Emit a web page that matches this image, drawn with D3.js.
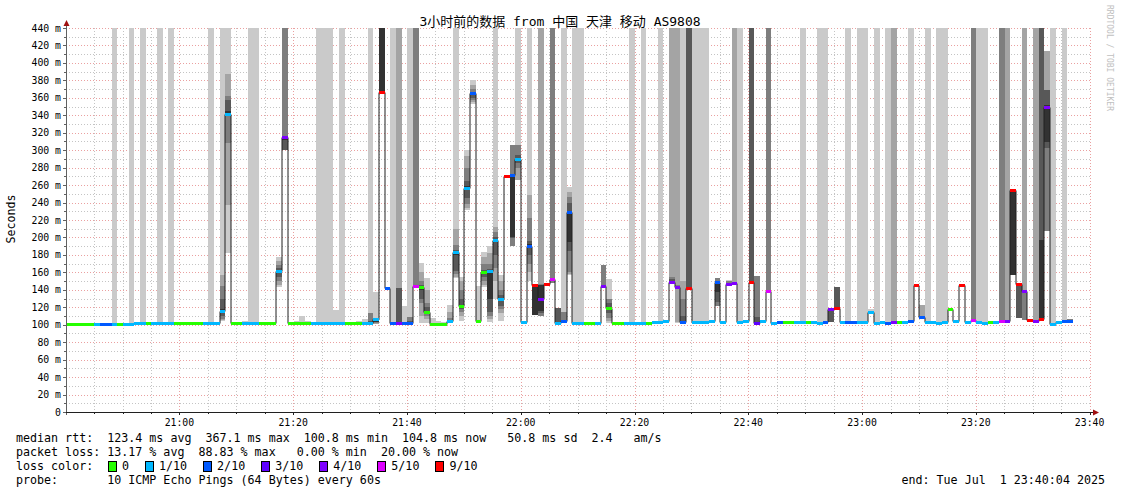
<!DOCTYPE html>
<html><head><meta charset="utf-8">
<script src="https://cdn.jsdelivr.net/npm/d3@7"></script>
<style>body{margin:0;background:#fff;}svg{display:block}</style>
</head><body><svg id="c" width="1121" height="494"></svg>
<script>
// ---------------- data ----------------
const titleText = "3小时前的数据 from 中国 天津 移动 AS9808";
const startTime = new Date(2025,6,1,20,40,4);
const endTime   = new Date(2025,6,1,23,40,4);
const xTickLabels = ["21:00","21:20","21:40","22:00","22:20","22:40","23:00","23:20","23:40"];
const yTickValues = [0,20,40,60,80,100,120,140,160,180,200,220,240,260,280,300,320,340,360,380,400,420,440];
const lossLevels = [0,1,2,3,4,5,9];
const lossLabels = ["0","1/10","2/10","3/10","4/10","5/10","9/10"];
const lossColors = ["#26ff00","#00b8ff","#0059ff","#5e00ff","#7e00ff","#dd00ff","#ff0000"];
const smokeColors = ["#cacaca","#a4a4a4","#7e7e7e","#585858","#323232"];
const legendLines = [
 "median rtt:  123.4 ms avg  367.1 ms max  100.8 ms min  104.8 ms now   50.8 ms sd  2.4   am/s",
 "packet loss: 13.17 % avg  88.83 % max   0.00 % min  20.00 % now",
 "loss color:",
 "probe:       10 ICMP Echo Pings (64 Bytes) every 60s"
];
const endText = "end: Tue Jul  1 23:40:04 2025";

// median rtt per minute (ms)
const medianRtt = [
101,101,101,101,101,101,101,101,101,100.8, 101,101,102.5,102.5,102,102,102,102,102,102,
102,102,102,102,102,102,102,116,342,102, 102,102,102,102,102,102,102,161,315,102,
102,102,102,102,102,102,102,102,102,102, 102,102,102,102,107,367,142,102,102,102,
102,144.7,143,115,101,101,101,104,183,122, 257,365,104,160,161.6,196.7,130,270.4,272,290,
103,190.6,145.5,129,146.7,152,102,104,228.6,102, 102,102,102,102,144.4,118.8,102,102,102,102,
102,102,102,103,103,104,149.3,143.2,103.5,141.6, 103,103,103,104,149.3,103,146.3,148,103,104,
149.3,102,104,138.6,101.5,103,103,103,103,103, 103,103,102,103,117.6,118.8,103,103,103,103,
103,115,102,103,102,103,103,103,104,145.5, 108.8,103,103,102,103,117.6,104,145.5,103,105,
103,102,103,103,104,104,254.8,146.3,138.6,105.8, 104,106.6,349,101,103,104,104
];
// lost pings out of 10 per minute
const lossCount = [
0,0,0,0,0,1,2,2,1,0, 1,1,1,1,0,1,1,1,1,0, 0,0,0,0,1,1,1,1,1,0,
0,1,1,1,0,0,0,1,4,0, 0,0,0,1,1,1,1,1,1,0, 0,0,1,1,1,9,2,2,4,2,
2,5,0,0,0,0,0,1,1,0, 1,2,0,0,1,1,1,9,2,1, 1,2,9,4,9,5,1,2,2,1,
1,0,0,1,4,0,0,0,1,1, 1,1,0,1,1,1,4,4,2,9, 1,1,1,1,2,1,4,4,1,1,
9,3,1,5,1,2,0,0,1,1, 0,1,1,2,4,9,1,2,2,1, 1,1,1,1,2,4,0,1,2,9,
2,1,1,1,1,0,1,9,1,5, 1,1,0,1,5,4,9,9,4,9, 4,9,4,1,1,2,2
];
// 10 sorted ping times per minute (ms); 500 = off the top of the chart
const pingValues = [
[101,101,101,101,101,101,101,101,101,101],[101,101,101,101,101,101,101,101,101,101],
[101,101,101,101,101,101,101,101,101,101],[101,101,101,101,101,101,101,101,101,101],
[101,101,101,101,101,101,101,101,101,101],[101,101,101,101,101,101,101,101,101,101],
[101,101,101,101,101,101,101,101,101,101],[101,101,101,101,101,101,101,101,101,101],
[101,101,101,101,101,101,101,101,101,500],[101,101,101,101,101,101,101,101,101,101],
[101,101,101,101,101,101,101,101,101,101],[101,101,101,101,101,101,101,101,101,500],
[102,102,102,102,102,102,102,102,102,102],[102,102,102,102,102,102,102,102,102,500],
[102,102,102,102,102,102,102,102,102,102],[102,102,102,102,102,102,102,102,102,102],
[102,102,102,102,102,102,102,102,102,500],[102,102,102,102,102,102,102,102,102,102],
[102,102,102,102,102,102,102,102,102,500],[102,102,102,102,102,102,102,102,102,102],
[102,102,102,102,102,102,102,102,102,102],[102,102,102,102,102,102,102,102,102,102],
[102,102,102,102,102,102,102,102,102,102],[102,102,102,102,102,102,102,102,102,102],
[102,102,102,102,102,102,102,102,102,102],[102,102,102,102,102,102,102,102,102,500],
[102,102,102,102,102,102,102,102,102,102],[104,105,106,110,113,118,130,144,157,500],
[182,237,308,340,341,345,358,362,387,500],[102,102,102,102,102,102,102,102,102,102],
[102,102,102,102,102,102,102,102,102,102],[102,102,102,102,102,102,102,102,102,104],
[102,102,102,102,102,102,102,102,102,500],[102,102,102,102,102,102,102,102,102,500],
[102,102,102,102,102,102,102,102,102,102],[102,102,102,102,102,102,102,102,102,102],
[102,102,102,102,102,102,102,102,102,102],[143,145,150,155,160,162,165,168,173,178],
[300,300,300,300,312,316,316,500,500,500],[102,102,102,102,102,102,102,102,102,102],
[102,102,102,102,102,102,102,102,102,104],[102,102,102,102,102,102,102,102,102,110],
[102,102,102,102,102,102,102,102,102,104],[102,102,102,102,102,102,102,102,102,103],
[102,102,102,102,102,102,102,102,102,500],[102,102,102,102,102,102,102,102,102,500],
[102,102,102,102,102,102,102,102,102,500],[102,102,102,102,102,102,102,102,102,117],
[102,102,102,102,102,102,102,102,102,500],[102,102,102,102,102,102,102,102,102,102],
[102,102,102,102,102,102,102,102,102,102],[102,102,102,102,102,102,102,102,102,104],
[102,102,102,102,102,102,102,102,102,106],[101,101,102,102,102,103,104,114,114,500],
[101,101,102,103,103,108,108,108,108,137],[367,367,367,367,367,500,500,500,500,500],
[142,142,142,142,142,142,142,142,142,142],[102,102,102,102,102,102,102,102,102,500],
[101,101,101,101,101,102,142,142,500,500],[102,102,102,102,102,102,102,102,102,121],
[102,102,102,102,102,103,104,109,109,500],[143,143,143,144,144,145,146,500,500,500],
[102,110,125,130,140,143,145,150,160,171],[102,106,110,112,114,116,120,125,140,153],
[101,101,101,101,101,101,101,101,101,108],[101,101,101,101,101,101,101,101,101,104],
[101,101,101,101,101,101,101,101,101,103],[103,103,103,103,104,104,105,108,115,123],
[153,155,158,161,180,185,186,191,210,500],[104,110,115,118,121,123,130,140,150,155],
[231,234,238,245,255,259,265,280,293,300],[353,355,358,360,364,366,367,370,375,380],
[104,104,104,104,104,104,104,104,104,144],[143,146,150,155,159,161,163,170,178,183],
[103,106,110,115,130,162,164,170,182,190],[130,150,165,180,195,198,200,206,212,500],
[104,114,118,122,129,131,134,140,150,157],[270,270,270,270,270,270,270,270,270,270],
[190,190,190,199,200,273,273,306,306,306],[266,266,280,285,289,291,295,306,306,500],
[103,103,103,103,103,103,103,103,103,103],[150,160,170,180,188,192,196,222,249,500],
[111,111,111,111,111,146,146,146,146,146],[110,110,110,113,116,146,146,147,500,500],
[147,147,147,147,147,147,147,147,147,147],[148,148,148,150,151,153,154,500,500,500],
[101,101,102,102,102,103,119,119,119,119],[103,103,103,103,104,104,105,115,115,500],
[157,158,160,185,195,230,240,246,252,258],[102,102,102,102,102,102,102,102,102,500],
[102,102,102,102,102,102,102,102,102,500],[102,102,102,102,102,102,102,102,102,102],
[102,102,102,102,102,102,102,102,102,102],[102,102,102,102,102,102,102,102,102,102],
[144,144,144,144,144,145,146,168,168,168],[102,104,108,113,118,120,125,130,130,152],
[102,102,102,102,102,102,102,102,102,102],[102,102,102,102,102,102,102,102,102,102],
[102,102,102,102,102,102,102,102,102,102],[102,102,102,102,102,102,102,102,102,500],
[102,102,102,102,102,102,102,102,102,102],[102,102,102,102,102,102,102,102,102,500],
[102,102,102,102,102,102,102,102,102,102],[103,103,103,103,103,103,103,103,103,103],
[103,103,103,103,103,103,103,103,103,500],[104,104,104,104,104,104,104,104,104,104],
[147,148,148,149,149,150,152,155,500,500],[102,103,142,143,143,143,144,145,500,500],
[103,103,103,103,103,104,110,130,150,500],[141,141,141,141,141,142,500,500,500,500],
[103,103,103,103,103,103,103,103,103,500],[103,103,103,103,103,103,103,103,103,500],
[103,103,103,103,103,103,103,103,103,500],[104,104,104,104,104,104,104,104,104,104],
[121,121,121,126,138,150,150,153,153,153],[103,103,103,103,103,103,103,103,103,103],
[146,146,146,146,146,147,148,150,150,151],[148,148,148,148,148,148,148,148,500,500],
[103,103,103,103,103,103,103,103,103,500],[104,104,104,104,104,104,104,104,104,104],
[149,149,149,149,149,150,500,500,500,500],[101,101,102,102,102,102,109,156,156,156],
[104,104,104,104,104,104,104,104,104,104],[138,138,138,138,138,139,140,500,500,500],
[101,101,101,101,101,101,101,101,101,101],[103,103,103,103,103,103,103,103,103,103],
[103,103,103,103,103,103,103,103,103,103],[103,103,103,103,103,103,103,103,103,103],
[103,103,103,103,103,103,103,103,103,103],[103,103,103,103,103,103,103,103,103,500],
[103,103,103,103,103,103,103,103,103,103],[103,103,103,103,103,103,103,103,103,103],
[102,102,102,102,102,102,102,102,102,500],[103,103,103,103,103,103,103,103,103,500],
[103,103,103,103,117,118,118,118,118,118],[118,118,118,118,118,119,143,143,143,143],
[103,103,103,103,103,103,103,103,103,103],[103,103,103,103,103,103,103,103,103,500],
[103,103,103,103,103,103,103,103,103,103],[103,103,103,103,103,103,103,103,103,500],
[103,103,103,103,103,103,103,103,103,500],[115,115,115,115,115,115,115,115,115,118],
[102,102,102,102,102,102,102,102,102,500],[103,103,103,103,103,103,103,103,103,103],
[102,102,102,102,102,102,102,102,102,500],[103,103,103,103,103,103,103,103,500,500],
[103,103,103,103,103,103,103,103,103,103],[103,103,103,103,103,103,103,103,103,103],
[104,104,104,104,104,104,104,104,104,500],[145,145,145,145,145,145,145,145,145,145],
[108,108,108,108,108,109,109,110,123,123],[103,103,103,103,103,103,103,103,103,500],
[103,103,103,103,103,103,103,103,103,103],[102,102,102,102,102,102,102,102,102,500],
[103,103,103,103,103,103,103,103,103,500],[117,117,117,117,117,117,117,117,117,117],
[104,104,104,104,104,104,104,104,104,104],[145,145,145,145,145,145,145,145,145,145],
[103,103,103,103,103,103,103,103,103,103],[104,104,104,104,105,107,107,500,500,500],
[103,103,103,103,103,103,103,103,103,500],[102,102,102,102,102,102,102,102,102,500],
[103,103,103,103,103,103,103,103,103,103],[103,103,103,103,103,103,103,103,103,103],
[103,103,103,103,104,105,105,500,500,500],[102,102,102,103,104,105,105,105,500,500],
[157,157,157,157,157,256,256,256,256,256],[108,108,108,108,146,147,147,147,147,147],
[105,105,105,138,138,139,139,139,500,500],[105,105,105,105,105,105,105,105,105,105],
[104,104,104,104,104,104,104,104,500,500],[106,106,106,106,107,197,500,500,500,500],
[207,207,207,302,309,352,369,369,414,414],[101,101,101,101,101,101,101,101,101,500],
[103,103,103,103,103,103,103,103,103,103],[104,104,104,104,104,104,104,104,104,500],
[104,104,104,104,104,104,104,106,106,106]
];

// ---------------- drawing ----------------
const W = 1121, H = 494;
const P = {left:66, right:1090, top:28, bottom:412};
const MONO = "'DejaVu Sans Mono','Noto Sans CJK SC',monospace";
const svg = d3.select("#c");
svg.append("rect").attr("width",W).attr("height",H).attr("fill","#fff");

const x = d3.scaleTime().domain([startTime,endTime]).range([P.left,P.right]);
const y = d3.scaleLinear().domain([0,440]).range([P.bottom,P.top]);
const stepTime = i => new Date(startTime.getTime() + i*60000);
const sx = i => Math.round(x(stepTime(i)));
const yc = v => y(Math.min(v, 440));

svg.append("defs").append("clipPath").attr("id","clip")
  .append("rect").attr("x",P.left).attr("y",P.top).attr("width",P.right-P.left).attr("height",P.bottom-P.top);

// grid (drawn beneath the smoke)
const gGrid = svg.append("g");
d3.range(10,441,10).forEach(v=>{
  const major = v%20===0;
  gGrid.append("line").attr("x1",P.left).attr("x2",P.right+2).attr("y1",Math.round(y(v))+0.5).attr("y2",Math.round(y(v))+0.5)
    .attr("stroke", major ? "#eaa0a0" : "#c4c4c4").attr("stroke-dasharray","1,2");
});
const minorTimes = d3.timeMinute.every(5).range(startTime, endTime);
minorTimes.forEach(t=>{
  const major = t.getMinutes()%20===0;
  const xx = Math.round(x(t))+0.5;
  gGrid.append("line").attr("x1",xx).attr("x2",xx).attr("y1",P.top).attr("y2",P.bottom)
    .attr("stroke", major ? "#eaa0a0" : "#c4c4c4").attr("stroke-dasharray","1,2");
});

// smoke
const gSmoke = svg.append("g").attr("clip-path","url(#clip)").attr("shape-rendering","crispEdges");
smokeColors.forEach((col,k)=>{
  const d = pingValues.map((p,i)=>({i, lo:p[k], hi:p[9-k]})).filter(e=>e.hi>e.lo);
  gSmoke.append("g").selectAll("rect").data(d).join("rect")
    .attr("x",e=>sx(e.i)).attr("width",e=>sx(e.i+1)-sx(e.i))
    .attr("y",e=>Math.round(yc(e.hi))).attr("height",e=>Math.round(yc(e.lo))-Math.round(yc(e.hi)))
    .attr("fill",col);
});

// median black step line
const lineData = medianRtt.map((m,i)=>[sx(i), Math.round(y(m))+0.5]);
lineData.push([sx(medianRtt.length), Math.round(y(medianRtt[medianRtt.length-1]))+0.5]);
svg.append("path").attr("d", d3.line().curve(d3.curveStepAfter)(lineData))
  .attr("fill","none").attr("stroke","#202020").attr("stroke-width",1);

// loss coloured median bars
function lossColor(l){ let c = lossColors[0]; lossLevels.forEach((lv,j)=>{ if(l>=lv) c = lossColors[j]; }); return c; }
svg.append("g").attr("shape-rendering","crispEdges").selectAll("rect").data(medianRtt).join("rect")
  .attr("x",(m,i)=>sx(i)).attr("width",(m,i)=>sx(i+1)-sx(i))
  .attr("y",m=>Math.round(y(m))-1).attr("height",2.5)
  .attr("fill",(m,i)=>lossColor(lossCount[i]));

// axes
const gAx = svg.append("g").attr("shape-rendering","crispEdges");
gAx.append("line").attr("x1",P.left+0.5).attr("x2",P.left+0.5).attr("y1",P.bottom+3).attr("y2",P.top-4).attr("stroke","#606060");
gAx.append("line").attr("x1",P.left-3).attr("x2",P.right+4).attr("y1",P.bottom+0.5).attr("y2",P.bottom+0.5).attr("stroke","#202020");
d3.range(0,441,10).forEach(v=>{
  const yy = Math.round(y(v))+0.5;
  gAx.append("line").attr("x1",P.left-(v%20===0?3:2)).attr("x2",P.left).attr("y1",yy).attr("y2",yy).attr("stroke","#606060");
});
minorTimes.forEach(t=>{
  const xx = Math.round(x(t))+0.5;
  gAx.append("line").attr("x1",xx).attr("x2",xx).attr("y1",P.bottom).attr("y2",P.bottom+(t.getMinutes()%20===0?3:2)).attr("stroke","#202020");
});
svg.append("path").attr("d",`M${P.left-2.5},${P.top-2} L${P.left+3.5},${P.top-2} L${P.left+0.5},${P.top-8} Z`).attr("fill","#a01010");
svg.append("path").attr("d",`M${P.right+3},${P.bottom-2.5} L${P.right+3},${P.bottom+3.5} L${P.right+9},${P.bottom+0.5} Z`).attr("fill","#a01010");

// tick labels
svg.append("g").selectAll("text").data(yTickValues).join("text")
  .attr("x",61).attr("y",v=>y(v)+3.5).attr("text-anchor","end")
  .attr("font-family",MONO).attr("font-size","9.8px").attr("fill","#000")
  .text(v=> v===0 ? "0" : v+" m");
const xTickTimes = xTickLabels.map(s=>{const [h,m]=s.split(":").map(Number); return new Date(2025,6,1,h,m,0);});
svg.append("g").selectAll("text").data(xTickTimes).join("text")
  .attr("x",t=>x(t)).attr("y",425.5).attr("text-anchor","middle")
  .attr("font-family",MONO).attr("font-size","9.8px").attr("fill","#000")
  .text((t,i)=>xTickLabels[i]);

// titles
svg.append("text").attr("x",560).attr("y",25.5).attr("text-anchor","middle")
  .attr("font-family",MONO).attr("font-size","13px").attr("fill","#000").text(titleText);
svg.append("text").attr("transform","translate(15,219) rotate(-90)").attr("text-anchor","middle")
  .attr("font-family",MONO).attr("font-size","11.6px").attr("fill","#000").text("Seconds");
svg.append("text").attr("transform","translate(1107,5) rotate(90)").attr("text-anchor","start")
  .attr("font-family",MONO).attr("font-size","8px").attr("fill","#c0c0c0").text("RRDTOOL / TOBI OETIKER");

// legend
const legY = [442,456,470,484];
legendLines.forEach((s,i)=>{
  svg.append("text").attr("x",16).attr("y",legY[i]).attr("font-family",MONO).attr("font-size","11.67px")
    .attr("fill","#000").attr("xml:space","preserve").style("white-space","pre").text(s);
});
let bx = 108;
lossLabels.forEach((lab,i)=>{
  svg.append("rect").attr("x",bx+0.5).attr("y",461.5).attr("width",8).attr("height",10)
    .attr("fill",lossColors[i]).attr("stroke","#000").attr("stroke-width",1).attr("shape-rendering","crispEdges");
  svg.append("text").attr("x",bx+14).attr("y",470).attr("font-family",MONO).attr("font-size","11.67px").attr("fill","#000").text(lab);
  bx = bx + 14 + lab.length*7.02 + 16;
});
svg.append("text").attr("x",1105).attr("y",484).attr("text-anchor","end").attr("font-family",MONO)
  .attr("font-size","11.67px").attr("fill","#000").style("white-space","pre").text(endText);
</script></body></html>
